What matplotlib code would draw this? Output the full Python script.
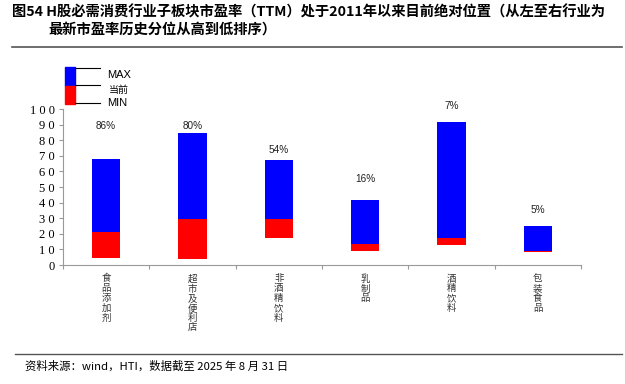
import matplotlib
matplotlib.use("Agg")
import matplotlib.pyplot as plt
from matplotlib.patches import Rectangle
from matplotlib.lines import Line2D

plt.rcParams['font.family'] = ['Noto Sans CJK SC', 'DejaVu Sans']

categories = ["食品添加剂", "超市及便利店", "非酒精饮料", "乳制品", "酒精饮料", "包装食品"]
pe_max = [68.2, 84.8, 67.3, 41.7, 91.9, 24.8]
pe_current = [21.0, 29.3, 29.7, 13.7, 17.3, 9.0]
pe_min = [4.5, 3.6, 17.3, 8.8, 13.0, 8.5]
pct_labels = ["86%", "80%", "54%", "16%", "7%", "5%"]
pct_label_y = [89, 89, 74, 55, 102, 35]
y_ticks = [0, 10, 20, 30, 40, 50, 60, 70, 80, 90, 100]

W, H = 625, 384
fig = plt.figure(figsize=(W / 100, H / 100), dpi=100)

def fx(px):
    return px / W

def fy(py):
    return 1 - py / H

ax = fig.add_axes([fx(63), fy(265), fx(581) - fx(63), fy(109) - fy(265)])
n = len(categories)
xs = list(range(n))
bw = 0.33
ax.bar(xs, [a - b for a, b in zip(pe_max, pe_min)], bottom=pe_min, width=bw,
       color="#0000FF", linewidth=0, zorder=2)
ax.bar(xs, [a - b for a, b in zip(pe_current, pe_min)], bottom=pe_min, width=bw,
       color="#FF0000", linewidth=0, zorder=3)
for x, lab, yy in zip(xs, pct_labels, pct_label_y):
    ax.text(x, yy, lab, ha="center", va="center", fontsize=7.2,
            family=["Liberation Sans", "DejaVu Sans"], color="#222222")

ax.set_xlim(-0.5, n - 0.5)
ax.set_ylim(0, 100)
ax.set_yticks(y_ticks)
ax.set_yticklabels([" ".join(str(t)) for t in y_ticks],
                   family=["Liberation Serif", "DejaVu Serif"], fontsize=9)
ax.set_xticks([i + 0.5 for i in range(-1, n)])
ax.set_xticklabels([])
ax.tick_params(axis="x", direction="out", length=3, color="#999999")
ax.tick_params(axis="y", direction="out", length=3, color="#999999", pad=3)
for s in ["top", "right"]:
    ax.spines[s].set_visible(False)
for s in ["left", "bottom"]:
    ax.spines[s].set_color("#999999")
    ax.spines[s].set_linewidth(0.8)

for x, cat in zip(xs, categories):
    ax.text(x, -6, "\n".join(cat), ha="center", va="top", fontsize=6.8,
            linespacing=1.1, color="#333333", clip_on=False)

# legend drawn manually
fig.patches.append(Rectangle((fx(65), fy(86)), fx(75) - fx(65), fy(67) - fy(86),
                             transform=fig.transFigure, color="#0000FF"))
fig.patches.append(Rectangle((fx(65), fy(104)), fx(75) - fx(65), fy(86) - fy(104),
                             transform=fig.transFigure, color="#FF0000"))
for py in [68, 85, 103]:
    fig.lines.append(Line2D([fx(75), fx(100)], [fy(py), fy(py)], transform=fig.transFigure,
                            color="black", linewidth=0.8))
fig.text(fx(107), fy(75), "MAX", fontsize=8, va="center", family=["Liberation Sans", "DejaVu Sans"])
fig.text(fx(109), fy(90), "当前", fontsize=7.2, va="center")
fig.text(fx(107), fy(103), "MIN", fontsize=8, va="center", family=["Liberation Sans", "DejaVu Sans"])

# title
fig.text(fx(12), fy(12), "图54 H股必需消费行业子板块市盈率（TTM）处于2011年以来目前绝对位置（从左至右行业为",
         fontsize=10.3, fontweight="bold", va="center")
fig.text(fx(48), fy(30), "最新市盈率历史分位从高到低排序）", fontsize=10.3, fontweight="bold", va="center")
fig.lines.append(Line2D([fx(12), fx(622)], [fy(47), fy(47)], transform=fig.transFigure,
                        color="#555555", linewidth=1.2))

# footer
fig.lines.append(Line2D([fx(15), fx(622)], [fy(354), fy(354)], transform=fig.transFigure,
                        color="#555555", linewidth=1.0))
fig.text(fx(25), fy(366), "资料来源：wind，HTI，数据截至 2025 年 8 月 31 日", fontsize=8.2, va="center")

fig.savefig("out.png", dpi=100)
